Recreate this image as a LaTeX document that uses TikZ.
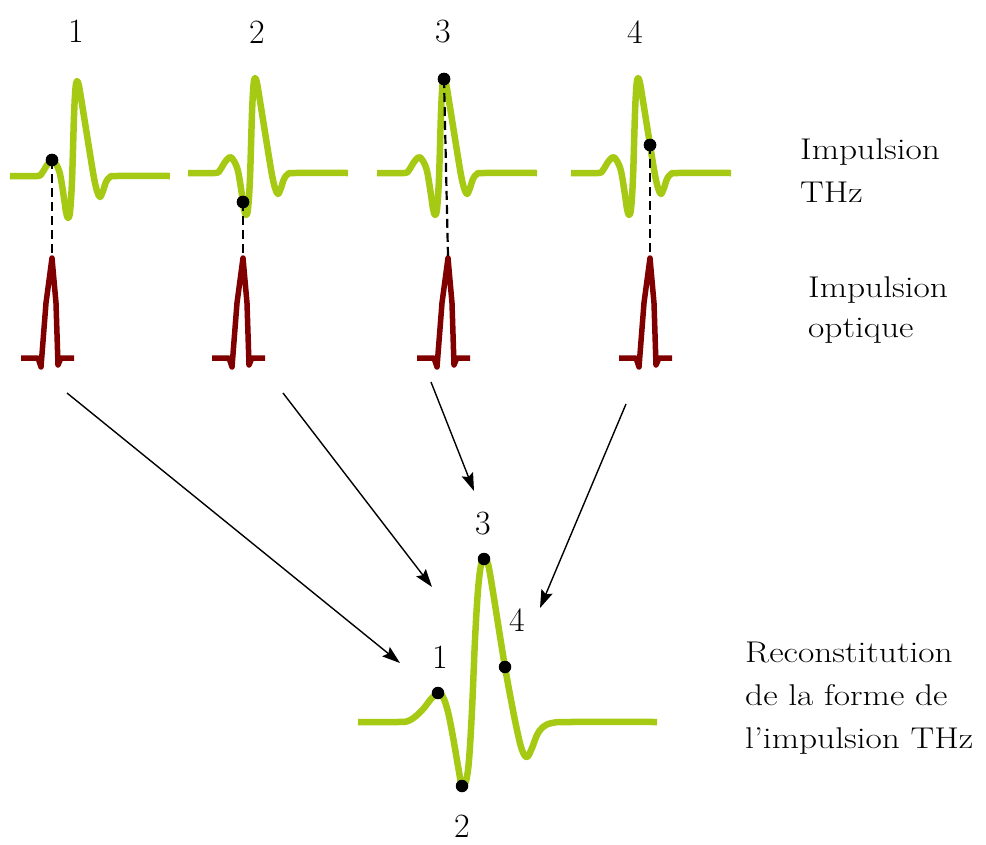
\documentclass[tikz,border=0pt]{standalone}
\usepackage{graphicx}
\usetikzlibrary{arrows.meta}
\definecolor{thzgreen}{RGB}{166,202,20}
\definecolor{optred}{RGB}{128,0,0}
\tikzset{
  thzline/.style={draw=thzgreen, line width=6.5pt, line join=round},
  optline/.style={draw=optred, line width=5.5pt, line join=round},
  dotnode/.style={circle, fill=black, inner sep=0pt, minimum size=12.5pt},
  probe/.style={draw=black, line width=2.2pt, dash pattern=on 9pt off 5pt},
  arr/.style={draw=black, line width=1.4pt, -{Stealth[length=18pt,width=12pt,inset=3pt]}},
  num/.style={font=\fontsize{34}{40}\selectfont, inner sep=0pt},
  lbl/.style={inner sep=0pt, anchor=base west},
  thz/.pic={\draw[thzline] plot[smooth,tension=0.55] coordinates {
    (-67,0) (-40,0) (-35,-3) (-30,-11) (-25,-16) (-21,-12) (-17,-2) (-13,22)
    (-11,36) (-9,42) (-7,36) (-5,5) (-3,-60) (-1.5,-88) (0,-95) (2,-90)
    (5,-72) (9,-47) (13,-22) (17,2) (20,15) (23,21) (26,15) (29,6) (33,1)
    (40,0) (93,0)};},
  opt/.pic={\draw[optline] (-31,0) -- (-14,0) -- (-11,9) -- (-6,-55) -- (0,-100)
    -- (4,-55) -- (6,7) -- (9,0) -- (22,0);}
}
\begin{document}
\begin{tikzpicture}[x=1pt,y=-1pt]
\useasboundingbox (0,0) rectangle (986,844);

% top THz pulses
\pic at (77,176) {thz};
\pic at (255,173) {thz};
\pic at (444,173) {thz};
\pic at (638,173) {thz};

% optical pulses
\pic at (52,358) {opt};
\pic at (243,358) {opt};
\pic at (448,358) {opt};
\pic at (650,358) {opt};
\coordinate (o1) at (52,256);
\coordinate (o2) at (243,256);
\coordinate (o3) at (448,256);
\coordinate (o4) at (650,256);

% sampling dots
\node[dotnode] (d1) at (52,160) {};
\node[dotnode] (d2) at (243,202) {};
\node[dotnode] (d3) at (444,79) {};
\node[dotnode] (d4) at (650,145) {};

\draw[probe] (d1.center) -- (o1);
\draw[probe] (d2.center) -- (o2);
\draw[probe] (d3.center) -- (o3);
\draw[probe] (d4.center) -- (o4);
\node[dotnode] at (d1) {};
\node[dotnode] at (d2) {};
\node[dotnode] at (d3) {};
\node[dotnode] at (d4) {};

% top numbers
\node[num] (n1) at (76,31) {1};
\node[num] (n2) at (257,32) {2};
\node[num] (n3) at (443,32) {3};
\node[num] (n4) at (635,32) {4};

% reconstructed pulse
\draw[thzline] plot[smooth,tension=0.6] coordinates {
  (358,722) (398,722) (408,721) (416,716) (424,708) (431,699) (438,693)
  (443,697) (448,712) (453,737) (458,766) (462,786) (466,781) (469,760)
  (472,710) (475,640) (478,590) (481,565) (484,559) (488,564) (493,592)
  (499,630) (505,667) (511,700) (517,730) (522,750) (527,757) (532,748)
  (537,735) (543,727) (552,723) (570,722) (657,722)};
\node[dotnode] (r1) at (438,693) {};
\node[dotnode] (r2) at (462,786) {};
\node[dotnode] (r3) at (484,559) {};
\node[dotnode] (r4) at (505,667) {};

\node[num] (b1) at (440,657) {1};
\node[num] (b2) at (462,826) {2};
\node[num] (b3) at (483,524) {3};
\node[num] (b4) at (517,620) {4};

% arrows
\coordinate (a1s) at (67,393);  \coordinate (a1e) at (400,663);
\coordinate (a2s) at (283,393); \coordinate (a2e) at (432,587);
\coordinate (a3s) at (431,382); \coordinate (a3e) at (474,491);
\coordinate (a4s) at (626,404); \coordinate (a4e) at (540,608);
\draw[arr] (a1s) -- (a1e);
\draw[arr] (a2s) -- (a2e);
\draw[arr] (a3s) -- (a3e);
\draw[arr] (a4s) -- (a4e);

% labels
\node[lbl, font=\fontsize{30}{43}\selectfont] (t1) at (800,159)
  {\scalebox{1.18}[1]{\begin{tabular}[t]{@{}l@{}}Impulsion\\THz\end{tabular}}};
\node[lbl, font=\fontsize{30}{40}\selectfont] (t2) at (808,297)
  {\scalebox{1.18}[1]{\begin{tabular}[t]{@{}l@{}}Impulsion\\optique\end{tabular}}};
\node[lbl, font=\fontsize{30}{43}\selectfont] (t3) at (745,662)
  {\scalebox{1.18}[1]{\begin{tabular}[t]{@{}l@{}}Reconstitution\\de la forme de\\l’impulsion THz\end{tabular}}};
\end{tikzpicture}
\end{document}
